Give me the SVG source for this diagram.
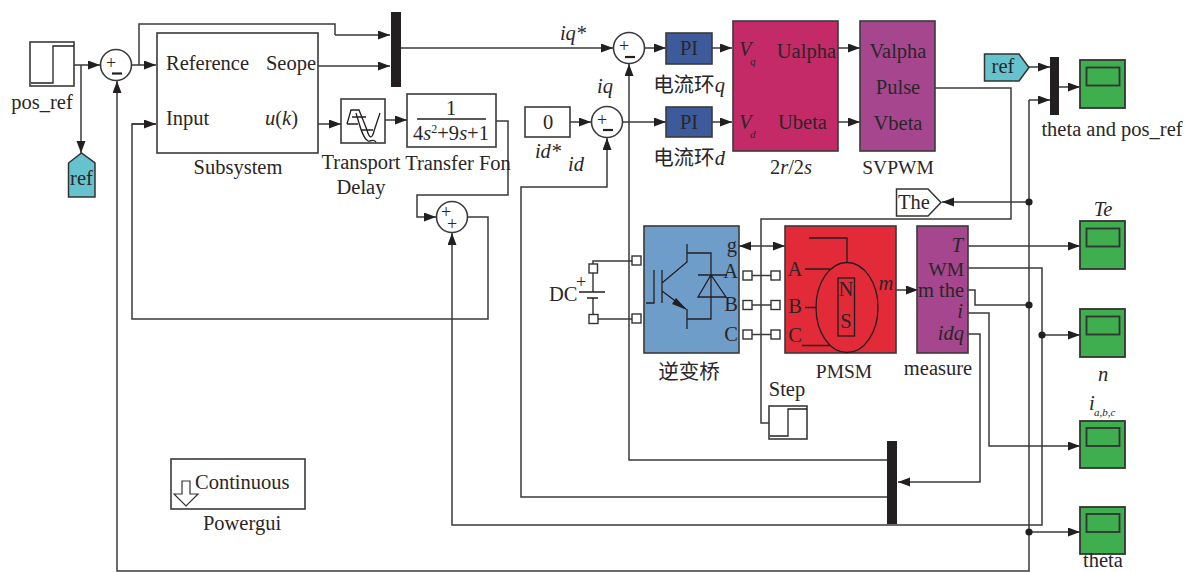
<svg xmlns="http://www.w3.org/2000/svg" width="1185" height="572" viewBox="0 0 1185 572">
<style>
text{font-family:"Liberation Serif",serif;font-size:20.5px;fill:#2a2627}
.m{text-anchor:middle}
.i{font-style:italic}
.e{text-anchor:end}
.cn{font-family:"Liberation Serif","Noto Sans CJK SC",serif}
.caps{font-size:19.5px}
.sub{font-size:11px}
.sup{font-size:12px}
.p{font-size:18px}
.b{fill:#fff;stroke:#3a3a3a;stroke-width:1.6}
.w{fill:none;stroke:#3a3a3a;stroke-width:1.5}
.a{fill:none;stroke:#3a3a3a;stroke-width:1.5;marker-end:url(#ah)}
.t{fill:none;stroke:#231f20;stroke-width:1.3}
.mn{fill:none;stroke:#231f20;stroke-width:2.2}
.bar{fill:#231f20}
.dot{fill:#231f20}
.pi{fill:#3d5a9a;stroke:#3a3a3a;stroke-width:1.6}
.sc{fill:#3fae4f;stroke:#333;stroke-width:1.8}
.port{fill:#fff;stroke:#333;stroke-width:1.4}
</style>
<defs>
<marker id="ah" markerUnits="userSpaceOnUse" markerWidth="13" markerHeight="10" refX="12" refY="4.5" orient="auto"><path d="M0 0L12 4.5L0 9Z" fill="#231f20"/></marker>
</defs>
<g id="connectors">
<path class="a" d="M74 65H100"/>
<path class="a" d="M81 65V153"/>
<path class="a" d="M132 65H156"/>
<path class="w" d="M139 65V24H335V35"/>
<path class="a" d="M335 35H390"/>
<path class="a" d="M318 66H390"/>
<path class="a" d="M401 48H613"/>
<path class="a" d="M645 48H666"/>
<path class="a" d="M712 48H732"/>
<path class="a" d="M838 48H860"/>
<path class="a" d="M838 122H860"/>
<path class="a" d="M570 122H591"/>
<path class="a" d="M623 122H666"/>
<path class="a" d="M712 122H732"/>
<path class="a" d="M318 124H341"/>
<path class="a" d="M385 120H407"/>
<path class="a" d="M496 121H508V195H417V217H436"/>
<path class="w" d="M467 217H488V319H132V124H156"/>
<path class="a" d="M132 124H156"/>
<path class="a" d="M887 460H629V64"/>
<path class="a" d="M887 497H521V187H607V138"/>
<path class="a" d="M968 268H1042V525H452V233"/>
<path class="a" d="M1029 100V571H117V81"/>
<path class="a" d="M1029 100H1050"/>
<path class="a" d="M1029 67H1050"/>
<path class="a" d="M1059 87H1080"/>
<path class="w" d="M935 88H1011V219H761V423H769"/>
<path class="a" d="M1029 202H942"/>
<path class="a" d="M968 246H1080"/>
<path class="w" d="M968 290H975V305H1029"/>
<path class="a" d="M968 313H989V446H1080"/>
<path class="a" d="M968 334H980V482H898"/>
<path class="a" d="M1042 335H1080"/>
<path class="a" d="M1029 532H1080"/>
<path class="a" d="M896 290H918"/>
<path class="a" d="M760 246H739"/>
<path class="a" d="M760 246H785"/>
<path class="w" d="M746 275.500H775M746 305H775M746 334.500H775"/>
<path class="w" d="M593 264V261H632M597 319H632"/>
<circle class="dot" cx="1029" cy="202" r="3.600"/>
<circle class="dot" cx="1029" cy="305" r="3.600"/>
<circle class="dot" cx="1042" cy="335" r="3.600"/>
<circle class="dot" cx="1029" cy="532" r="3.600"/>
</g>
<g id="pos_ref"><rect class="b" x="30" y="42" width="44" height="44"/><path class="t" d="M31 83H53V46H74"/><text x="42" y="109" class="m">pos_ref</text></g>
<g id="ref_from"><path d="M68.500 197V163L81.500 153L95 163V197Z" fill="#66c3ce" stroke="#333" stroke-width="1.500"/><text x="81.500" y="185" class="m">ref</text></g>
<g id="sum1"><circle class="b" cx="116" cy="65" r="15.500"/><text x="111" y="69" class="m p">+</text><path class="mn" d="M112 73.500H122"/></g>
<g id="subsystem"><rect class="b" x="157" y="33" width="161" height="120"/><text x="166" y="70">Reference</text><text x="316" y="70" class="e">Seope</text><text x="166" y="125">Input</text><text x="298" y="125" class="e"><tspan class="i">u</tspan>(<tspan class="i">k</tspan>)</text><text x="238" y="174" class="m">Subsystem</text></g>
<g id="mux1"><rect class="bar" x="391" y="12" width="10" height="75"/></g>
<g id="delay"><rect class="b" x="341" y="99" width="44" height="44"/><path class="t" d="M347 124L351 110H359L367 130C369 138 372 140 374 131L380 113M347 124H358M356 113C359 122 362 138 368 141C371 142 373 138 376 142M352 117H366M361 130H373"/><text x="361" y="169" class="m">Transport</text><text x="361" y="194" class="m">Delay</text></g>
<g id="tf"><rect class="b" x="407" y="94" width="89" height="53"/><text x="451" y="115" class="m">1</text><path class="t" d="M417 119H486"/><text x="451" y="140" class="m">4<tspan class="i">s</tspan><tspan class="sup" dy="-7">2</tspan><tspan dy="7">+9</tspan><tspan class="i">s</tspan>+1</text><text x="458" y="170" class="m">Transfer Fon</text></g>
<g id="sum3"><circle class="b" cx="452" cy="217" r="15.500"/><text x="446" y="218" class="m p">+</text><text x="452" y="230" class="m p">+</text></g>
<g id="constant"><rect class="b" x="525" y="107" width="45" height="30"/><text x="548" y="129" class="m">0</text><text x="548" y="158" class="m i">id*</text><text x="576" y="171" class="m i">id</text></g>
<g id="sum2"><circle class="b" cx="629" cy="48" r="15.500"/><text x="624" y="52" class="m p">+</text><path class="mn" d="M625 57H635"/><text x="573" y="40" class="m i">iq*</text><text x="605" y="93" class="m i">iq</text></g>
<g id="sum4"><circle class="b" cx="607" cy="122" r="15.500"/><text x="602" y="126" class="m p">+</text><path class="mn" d="M603 130H613"/></g>
<g id="pi_q"><rect class="pi" x="666" y="33" width="46" height="31"/><text x="689" y="55" class="m">PI</text><text x="689" y="92" class="m cn">电流环<tspan class="i">q</tspan></text></g>
<g id="pi_d"><rect class="pi" x="666" y="107" width="46" height="30"/><text x="689" y="129" class="m">PI</text><text x="689" y="165" class="m cn">电流环<tspan class="i">d</tspan></text></g>
<g id="r2s"><rect x="733" y="21" width="105" height="130" fill="#c42a68" stroke="#3a3a3a" stroke-width="1.600"/><text x="739" y="56" class="i">V</text><text x="750" y="65" class="i sub">q</text><text x="739" y="129" class="i">V</text><text x="750" y="138" class="i sub">d</text><text x="836" y="58" class="e">Ualpha</text><text x="778" y="129">Ubeta</text><text x="791" y="174" class="m"><tspan>2</tspan><tspan class="i">r</tspan>/2<tspan class="i">s</tspan></text></g>
<g id="svpwm"><rect x="860" y="21" width="75" height="130" fill="#a5468e" stroke="#3a3a3a" stroke-width="1.600"/><text x="898" y="58" class="m">Valpha</text><text x="898" y="94" class="m">Pulse</text><text x="898" y="130" class="m">Vbeta</text><text x="898" y="174" class="m caps">SVPWM</text></g>
<g id="ref_goto"><path d="M984.500 54H1019L1029 67.500L1019 81H984.500Z" fill="#66c3ce" stroke="#333" stroke-width="1.500"/><text x="1003" y="73" class="m">ref</text></g>
<g id="mux2"><rect class="bar" x="1050" y="57" width="9" height="58"/></g>
<g id="scope1"><rect class="sc" x="1080" y="60" width="45" height="48"/><rect class="sc" x="1086.500" y="67.500" width="33" height="18"/><text x="1112" y="136" class="m">theta and pos_ref</text></g>
<g id="the_goto"><path d="M896.500 189H928L941 202.500L928 216H896.500Z" fill="#fff" stroke="#333" stroke-width="1.500"/><text x="914" y="209" class="m">The</text></g>
<g id="dc"><path class="t" d="M593 273V292M579 292H605M587 298H598M593 298V315"/><rect class="port" x="589" y="264" width="8.500" height="9"/><rect class="port" x="589" y="314.500" width="9" height="9"/><text x="549" y="301">DC</text><text x="581" y="288" class="m p">+</text></g>
<g id="inverter"><rect x="644" y="226" width="95" height="127" fill="#6f9dc9" stroke="#3a3a3a" stroke-width="1.600"/><rect class="port" x="632" y="256" width="9" height="9"/><rect class="port" x="632" y="314" width="9" height="9"/><path class="t" d="M646 303H654V270M662 270V303M662 283L687 262V244M687 253H711V319H687M662 291L686 309M687 309V329M698 275H727M698 297H726L711 275L698 297Z"/><path d="M687 310L676 298L672 304Z" fill="#231f20"/><text x="737" y="252" class="e">g</text><text x="738" y="278" class="e">A</text><text x="738" y="311" class="e">B</text><text x="738" y="341" class="e">C</text><rect class="port" x="743" y="271" width="9" height="9"/><rect class="port" x="743" y="300.500" width="9" height="9"/><rect class="port" x="743" y="330" width="9" height="9"/><rect class="port" x="771" y="271" width="9" height="9"/><rect class="port" x="771" y="300.500" width="9" height="9"/><rect class="port" x="771" y="330" width="9" height="9"/><text x="689" y="379" class="m cn">逆变桥</text></g>
<g id="pmsm"><rect x="785" y="226" width="111" height="127" fill="#e32a38" stroke="#3a3a3a" stroke-width="1.600"/><ellipse class="t" cx="847" cy="307.500" rx="31" ry="45"/><rect class="t" x="838" y="278" width="16.500" height="58"/><path class="t" d="M809 238H847V262.500M805 269H830M805 307.500H817M802 345.500H830"/><text x="795" y="276" class="m">A</text><text x="795" y="313" class="m">B</text><text x="795" y="342" class="m">C</text><text x="846" y="296" class="m">N</text><text x="846" y="328" class="m">S</text><text x="886" y="290" class="m i">m</text><text x="844" y="378" class="m caps">PMSM</text></g>
<g id="measure"><rect x="917" y="226" width="51" height="127" fill="#a5468e" stroke="#3a3a3a" stroke-width="1.600"/><text x="963" y="252" class="e i">T</text><text x="964" y="276" class="e caps">WM</text><text x="964" y="297" class="e">m the</text><text x="963" y="318" class="e i">i</text><text x="964" y="340" class="e i">idq</text><text x="938" y="375" class="m">measure</text></g>
<g id="step"><rect class="b" x="769" y="406" width="38" height="33"/><path class="t" d="M770 436H788V409H807"/><text x="787" y="396" class="m">Step</text></g>
<g id="mux3"><rect class="bar" x="887" y="441" width="10" height="83"/></g>
<g id="scope_te"><rect class="sc" x="1080" y="221" width="45" height="48"/><rect class="sc" x="1086.500" y="228.500" width="33" height="18"/><text x="1103" y="216" class="m i">Te</text></g>
<g id="scope_n"><rect class="sc" x="1080" y="309" width="45" height="48"/><rect class="sc" x="1086.500" y="316.500" width="33" height="18"/><text x="1103" y="381" class="m i">n</text></g>
<g id="scope_i"><rect class="sc" x="1080" y="421" width="45" height="47"/><rect class="sc" x="1086.500" y="428" width="33" height="18"/><text x="1089" y="410" class="i">i</text><text x="1094" y="416" class="i sub">a,b,c</text></g>
<g id="scope_theta"><rect class="sc" x="1080" y="507" width="45" height="47"/><rect class="sc" x="1086.500" y="514" width="33" height="18"/><text x="1103" y="567" class="m">theta</text></g>
<g id="powergui"><rect class="b" x="171" y="459" width="134" height="50"/><path d="M182 481H190V494H198L186 506L174 494H182Z" fill="#fff" stroke="#333" stroke-width="1.200"/><text x="195" y="489">Continuous</text><text x="242" y="530" class="m">Powergui</text></g>
</svg>
